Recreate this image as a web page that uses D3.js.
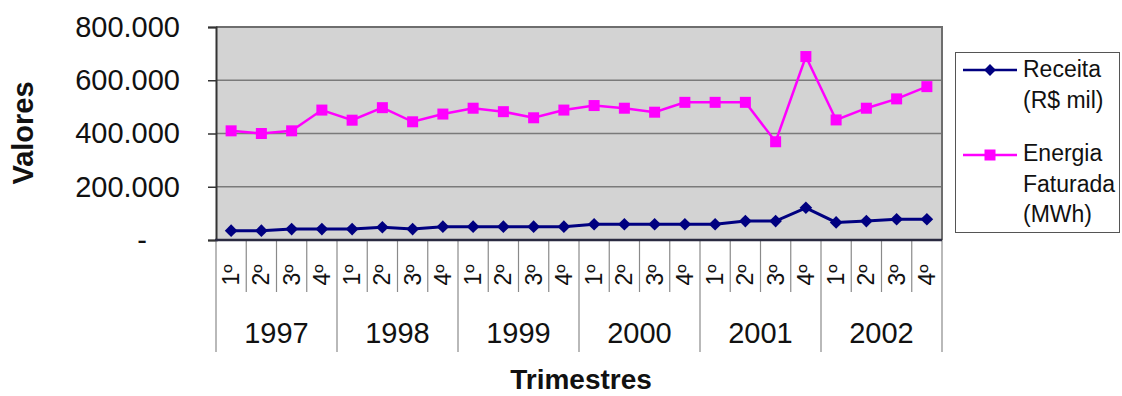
<!DOCTYPE html>
<html>
<head>
<meta charset="utf-8">
<script src="https://cdn.jsdelivr.net/npm/d3@7"></script>
<style>
  html, body { margin: 0; padding: 0; background: #ffffff; }
  svg { display: block; font-family: "Liberation Sans", Arial, sans-serif; }
</style>
</head>
<body>
<svg id="chart" width="1122" height="396"></svg>
<script>
// Quarterly series, 1997–2002
const years = ["1997", "1998", "1999", "2000", "2001", "2002"];
const quarters = ["1º", "2º", "3º", "4º"];
const receita = [35000, 35000, 41000, 41000, 41000, 48000, 41000, 50000,
                 50000, 50000, 50000, 50000, 59000, 59000, 59000, 59000,
                 59000, 71000, 71000, 121000, 66000, 71000, 78000, 78000];
const energia = [410000, 400000, 410000, 488000, 450000, 497000, 444000, 473000,
                 495000, 482000, 459000, 488000, 505000, 495000, 480000, 517000,
                 517000, 517000, 369000, 689000, 451000, 495000, 530000, 576000];
const yTicks = [0, 200000, 400000, 600000, 800000];
const seriesNames = [["Receita", "(R$ mil)"], ["Energia", "Faturada", "(MWh)"]];

const svg = d3.select("#chart");
const plot = { left: 216, right: 942, top: 27, bottom: 240 };

const idx = d3.range(years.length * quarters.length);
const x = d3.scaleBand().domain(idx).range([plot.left, plot.right]).padding(0);
const y = d3.scaleLinear().domain([0, 800000]).range([plot.bottom, plot.top]);

const ptBR = d3.formatLocale({ decimal: ",", thousands: ".", grouping: [3], currency: ["R$", ""] });
const fmt = ptBR.format(",.0f");

// plot background
svg.append("rect")
  .attr("x", plot.left).attr("y", plot.top)
  .attr("width", plot.right - plot.left).attr("height", plot.bottom - plot.top)
  .attr("fill", "#d3d3d3");

// horizontal gridlines
svg.append("g").selectAll("line")
  .data(yTicks.filter(v => v > 0 && v < 800000))
  .join("line")
  .attr("x1", plot.left).attr("x2", plot.right)
  .attr("y1", d => y(d)).attr("y2", d => y(d))
  .attr("stroke", "#7a7a7a").attr("stroke-width", 1.5);

// plot frame (top / right)
svg.append("path")
  .attr("d", `M${plot.left},${plot.top}H${plot.right}V${plot.bottom}`)
  .attr("fill", "none").attr("stroke", "#6e6e6e").attr("stroke-width", 2);

// y axis
const yAxis = svg.append("g")
  .attr("transform", `translate(${plot.left},0)`)
  .call(d3.axisLeft(y).tickValues(yTicks).tickSize(8).tickPadding(28)
    .tickFormat(d => d === 0 ? "-" : fmt(d)));
yAxis.select(".domain").attr("stroke", "#333").attr("stroke-width", 2);
yAxis.selectAll(".tick line").attr("stroke", "#333").attr("stroke-width", 1.5);
yAxis.selectAll(".tick text")
  .attr("font-size", 29).attr("fill", "#111")
  .attr("font-family", "'Liberation Sans', Arial, sans-serif")
  .attr("dx", d => d === 0 ? -33 : 0);

// category axis: quarter dividers, year dividers and labels
const catG = svg.append("g");
const bounds = d3.range(idx.length + 1).map(i => i < idx.length ? x(i) : plot.right);
catG.selectAll("line.q")
  .data(bounds)
  .join("line")
  .attr("class", "q")
  .attr("x1", d => d).attr("x2", d => d)
  .attr("y1", plot.bottom)
  .attr("y2", (d, i) => i % quarters.length === 0 ? 352 : 292)
  .attr("stroke", "#8a8a8a").attr("stroke-width", 1.2);

catG.selectAll("text.q")
  .data(idx)
  .join("text")
  .attr("class", "q")
  .attr("transform", i => `translate(${x(i) + x.bandwidth() / 2 + 8},275) rotate(-90)`)
  .attr("text-anchor", "middle")
  .attr("font-size", 23).attr("fill", "#111")
  .text(i => quarters[i % quarters.length]);

catG.selectAll("text.yr")
  .data(years)
  .join("text")
  .attr("class", "yr")
  .attr("x", (d, j) => (x(j * 4) + (j * 4 + 4 < idx.length ? x(j * 4 + 4) : plot.right)) / 2)
  .attr("y", 343)
  .attr("text-anchor", "middle")
  .attr("font-size", 29).attr("fill", "#111")
  .text(d => d);

// x axis baseline
svg.append("line")
  .attr("x1", plot.left - 1).attr("x2", plot.right)
  .attr("y1", plot.bottom).attr("y2", plot.bottom)
  .attr("stroke", "#2a2a40").attr("stroke-width", 2.5);

// series
const cx = i => x(i) + x.bandwidth() / 2;
const line = d3.line().x((d, i) => cx(i)).y(d => y(d));

svg.append("path").datum(energia)
  .attr("d", line).attr("fill", "none")
  .attr("stroke", "#ff00ff").attr("stroke-width", 2.5);
svg.append("g").selectAll("rect")
  .data(energia).join("rect")
  .attr("x", (d, i) => cx(i) - 5.5).attr("y", d => y(d) - 5.5)
  .attr("width", 11).attr("height", 11)
  .attr("fill", "#ff00ff");

svg.append("path").datum(receita)
  .attr("d", line).attr("fill", "none")
  .attr("stroke", "#000080").attr("stroke-width", 3);
svg.append("g").selectAll("path")
  .data(receita).join("path")
  .attr("transform", (d, i) => `translate(${cx(i)},${y(d)}) rotate(45)`)
  .attr("d", d3.symbol().type(d3.symbolSquare).size(80))
  .attr("fill", "#000080");

// axis titles
svg.append("text")
  .attr("transform", "translate(33,133) rotate(-90)")
  .attr("text-anchor", "middle")
  .attr("font-size", 29).attr("font-weight", "bold").attr("fill", "#111")
  .text("Valores");
svg.append("text")
  .attr("x", 581).attr("y", 389)
  .attr("text-anchor", "middle")
  .attr("font-size", 28).attr("font-weight", "bold").attr("fill", "#111")
  .text("Trimestres");

// legend
const legend = svg.append("g");
legend.append("rect")
  .attr("x", 955.5).attr("y", 52.5).attr("width", 164).attr("height", 180)
  .attr("fill", "#ffffff").attr("stroke", "#555").attr("stroke-width", 1);

const legendItems = [
  { lines: seriesNames[0], color: "#000080", top: 77, mark: "diamond", ly: 70 },
  { lines: seriesNames[1], color: "#ff00ff", top: 161, mark: "square", ly: 155 }
];
legendItems.forEach(item => {
  legend.append("line")
    .attr("x1", 963).attr("x2", 1017)
    .attr("y1", item.ly).attr("y2", item.ly)
    .attr("stroke", item.color).attr("stroke-width", 2.5);
  if (item.mark === "square") {
    legend.append("rect")
      .attr("x", 984.5).attr("y", item.ly - 5.5).attr("width", 11).attr("height", 11)
      .attr("fill", item.color);
  } else {
    legend.append("path")
      .attr("transform", `translate(990,${item.ly}) rotate(45)`)
      .attr("d", d3.symbol().type(d3.symbolSquare).size(70))
      .attr("fill", item.color);
  }
  legend.append("text")
    .attr("x", 1023).attr("y", item.top)
    .attr("font-size", 23).attr("fill", "#111")
    .selectAll("tspan")
    .data(item.lines).join("tspan")
    .attr("x", 1023)
    .attr("dy", (d, i) => i === 0 ? 0 : 30.5)
    .text(d => d);
});
</script>
</body>
</html>
